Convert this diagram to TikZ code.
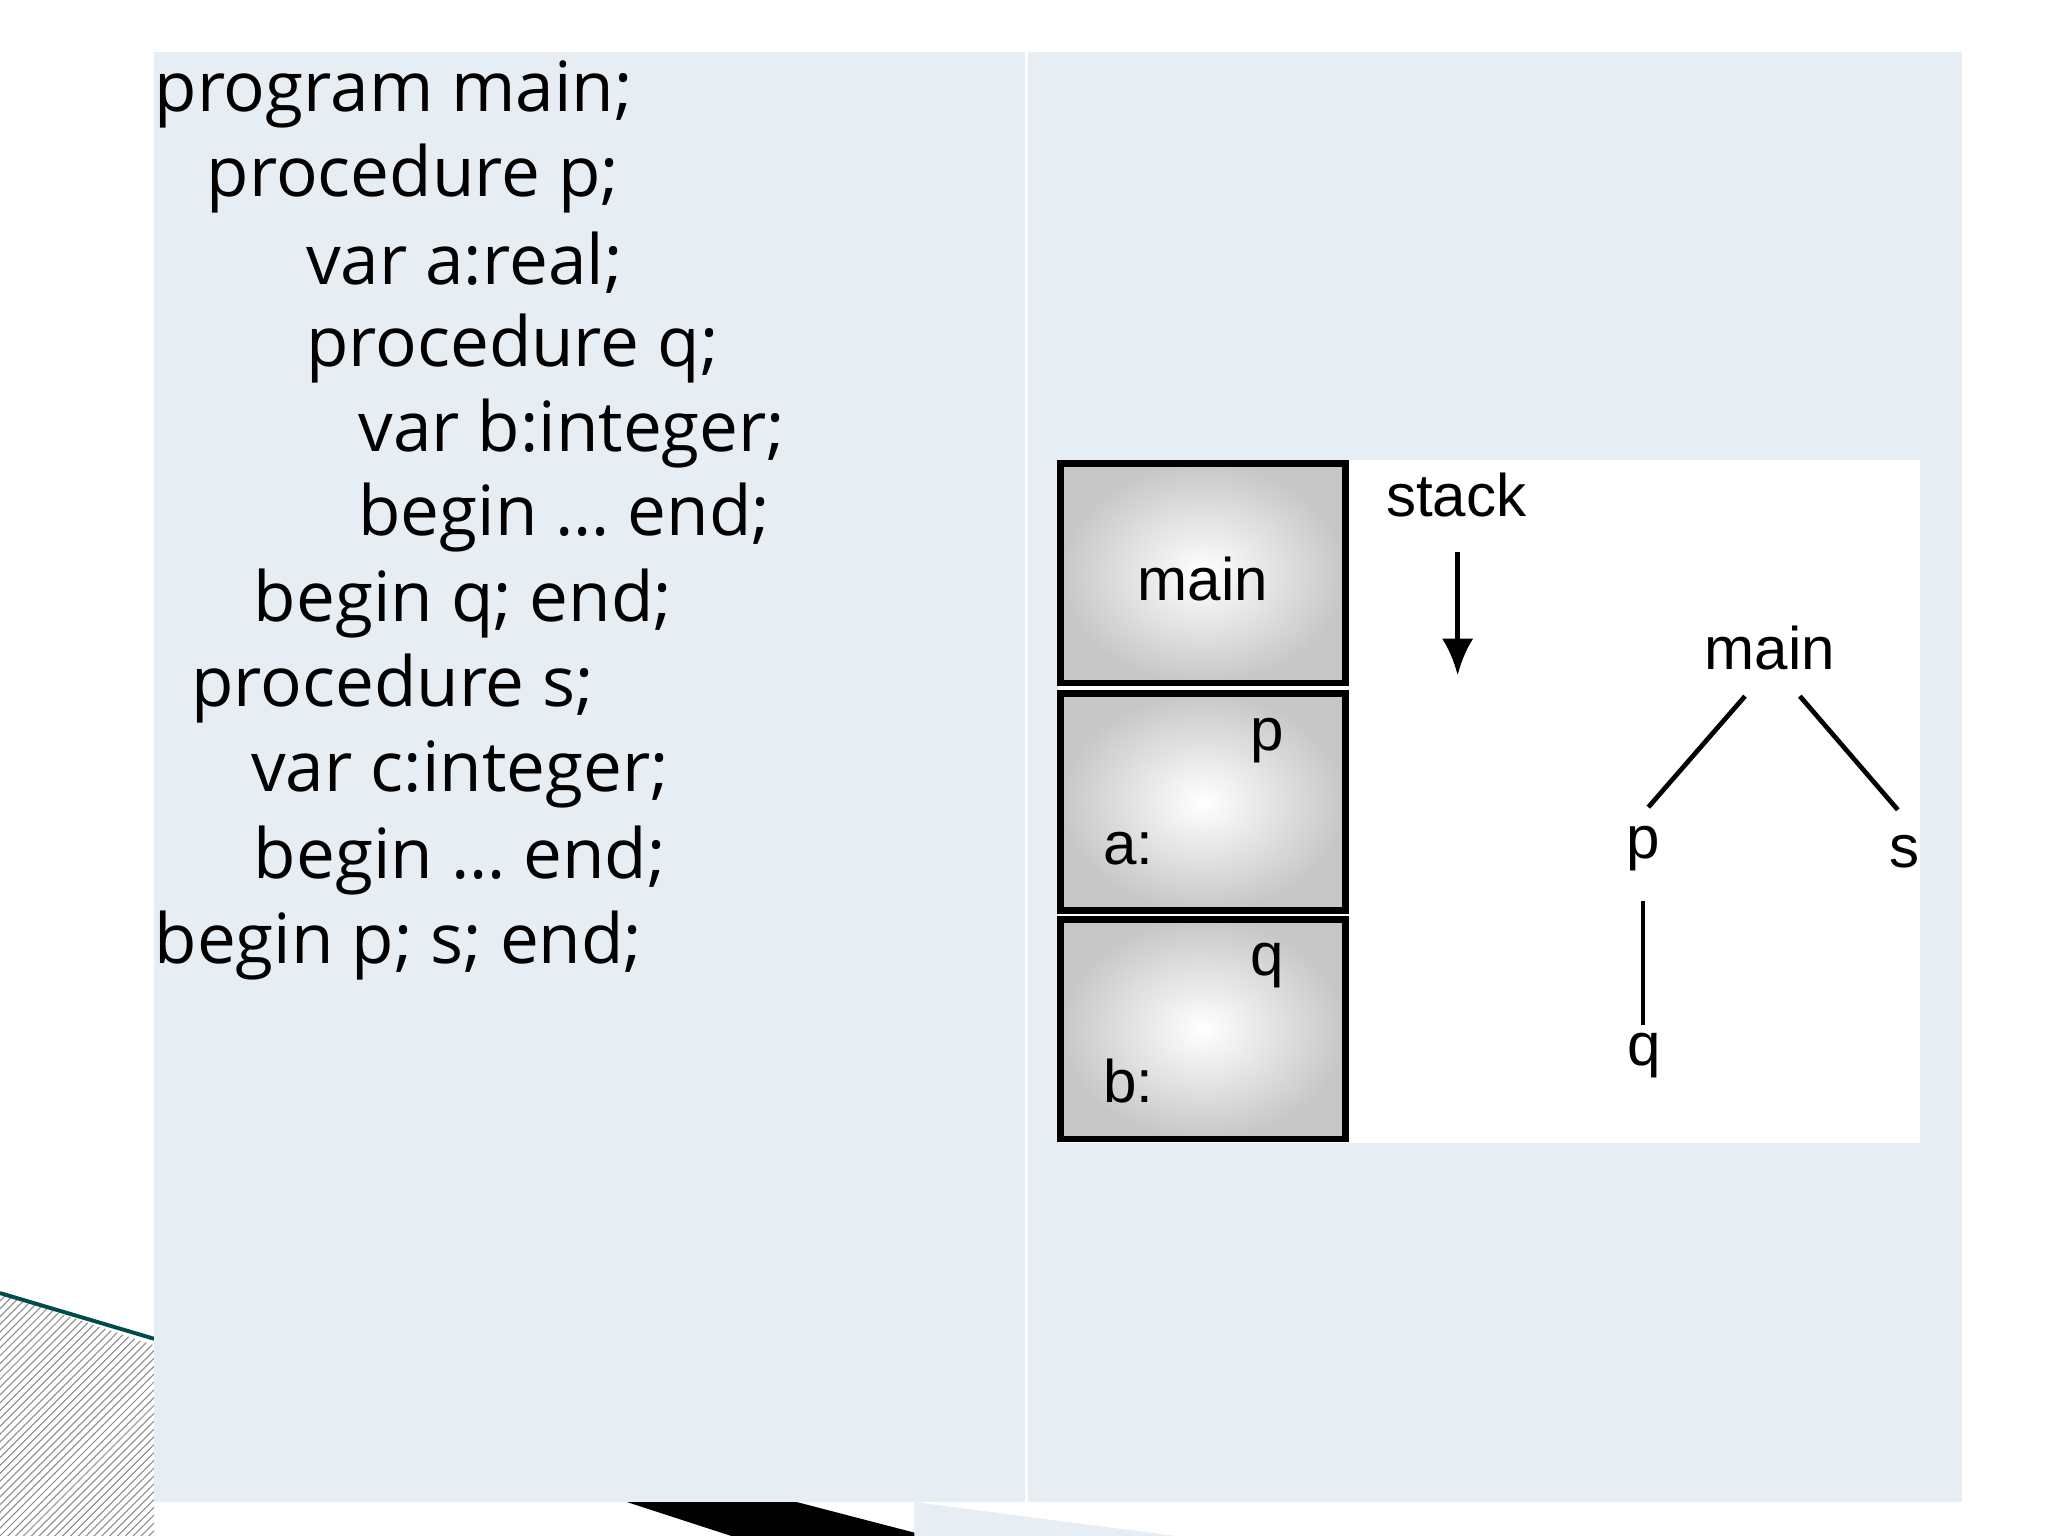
\documentclass[tikz,border=0pt]{standalone}
\usepackage{fontspec}
\setmainfont{Open Sans}
\newfontfamily\lsans{Liberation Sans}
\usetikzlibrary{patterns,arrows.meta}
\definecolor{panel}{RGB}{231,238,243}
\begin{document}
\begin{tikzpicture}[x=0.5pt,y=-0.5pt,
  code/.style={anchor=west,inner sep=0pt,font=\fontsize{26.5}{30}\selectfont},
  lab/.style={inner sep=0pt,font=\lsans\fontsize{23}{27}\selectfont},
  frame/.style={draw=black,line width=2.5pt,inner color=white,outer color=black!22}]
\useasboundingbox (0,0) rectangle (1568,1176);
\fill[white] (0,0) rectangle (1568,1176);
% decoration
\fill[pattern=north east lines,pattern color=black!45] (0,990) -- (118,1030) -- (118,1176) -- (0,1176) -- cycle;
\draw[teal!60!black,line width=1.5pt] (0,990) -- (118,1025);
\fill[black] (480,1150) -- (610,1150) -- (710,1176) -- (560,1176) -- cycle;
\fill[panel] (700,1150) -- (900,1176) -- (700,1176) -- cycle;
% table
\fill[panel] (118,40) rectangle (1502,1150);
\draw[white,line width=1pt] (786,40) -- (786,1150);
% code
\node[code] (l1) at (118,72) {program main;};
\node[code] (l2) at (158,137) {procedure p;};
\node[code] (l3) at (234,201) {var a:real;};
\node[code] (l4) at (234,267) {procedure q;};
\node[code] (l5) at (274,332) {var b:integer;};
\node[code] (l6) at (274,396) {begin … end;};
\node[code] (l7) at (194,462) {begin q; end;};
\node[code] (l8) at (146,527) {procedure s;};
\node[code] (l9) at (192,593) {var c:integer;};
\node[code] (l10) at (194,659) {begin … end;};
\node[code] (l11) at (118,724) {begin p; s; end;};
% right figure
\fill[white] (810,352) rectangle (1470,875);
\draw[frame] (812,355) rectangle (1030,523);
\draw[frame] (812,531) rectangle (1030,697);
\draw[frame] (812,704) rectangle (1030,872);
\node[lab] (m1) at (921,443) {main};
\node[lab] (pp) at (970,567) {p};
\node[lab] (aa) at (864,650) {a:};
\node[lab] (qq) at (970,739) {q};
\node[lab] (bb) at (864,828) {b:};
\node[lab] (st) at (1115,379) {stack};
\coordinate (a1) at (1116,423);
\coordinate (a2) at (1116,517);
\draw[line width=2pt,-{Latex[length=14pt,width=12pt]}] (a1) -- (a2);
\node[lab] (tm) at (1355,496) {main};
\node[lab] (tp) at (1258,650) {p};
\node[lab] (ts) at (1458,652) {s};
\node[lab] (tq) at (1259,808) {q};
\draw[line width=1.8pt] (1336,533) -- (1262,618);
\draw[line width=1.8pt] (1378,533) -- (1453,620);
\draw[line width=1.8pt] (1258,690) -- (1258,785);
\end{tikzpicture}
\end{document}
